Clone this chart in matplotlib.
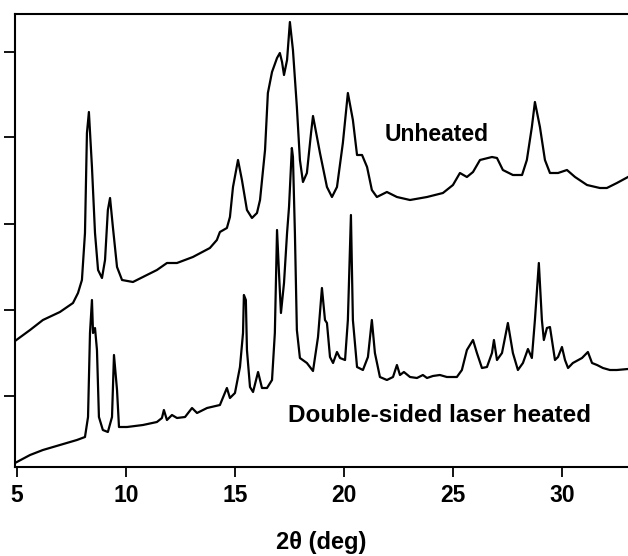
import matplotlib
matplotlib.use("Agg")
import matplotlib.pyplot as plt

plt.rcParams['font.family'] = ['Liberation Sans', 'DejaVu Sans']

# 2-theta (deg) and intensity (a.u.)
two_theta_unheated = [
    4.91, 5.60, 6.19, 6.97, 7.57, 7.80, 7.98, 8.12, 8.21, 8.30, 8.44, 8.58,
    8.72, 8.90, 9.04, 9.17, 9.27, 9.40, 9.59, 9.82, 10.32, 10.96, 11.42,
    11.88, 12.34, 13.07, 13.85, 14.17, 14.31, 14.63, 14.77, 14.91, 15.14,
    15.32, 15.55, 15.78, 16.01, 16.15, 16.38, 16.51, 16.70, 16.93, 17.06,
    17.16, 17.25, 17.39, 17.52, 17.66, 17.84, 17.98, 18.12, 18.30, 18.49,
    18.58, 18.90, 19.22, 19.45, 19.68, 19.95, 20.18, 20.41, 20.60, 20.83,
    21.06, 21.28, 21.51, 21.97, 22.43, 23.03, 23.81, 24.54, 25.00, 25.32,
    25.64, 25.92, 26.24, 26.79, 27.02, 27.29, 27.75, 28.17, 28.39, 28.62,
    28.76, 28.99, 29.22, 29.45, 29.82, 30.23, 30.60, 31.15, 31.74, 32.06,
    32.52, 33.03,
]
intensity_unheated = [
    126, 137, 147, 155, 164, 174, 187, 234, 334, 355, 300, 234,
    197, 189, 207, 257, 269, 240, 200, 187, 185, 192, 197,
    204, 204, 210, 219, 227, 235, 239, 250, 280, 307,
    287, 257, 249, 254, 267, 317, 374, 395, 409, 414,
    405, 392, 407, 445, 417, 360, 307, 285, 294, 334,
    351, 314, 280, 270, 280, 324, 374, 347, 312, 312,
    300, 277, 270, 275, 270, 267, 270, 274, 282, 294,
    290, 295, 307, 310, 309, 297, 292, 292, 307, 340,
    365, 340, 307, 294, 294, 297, 290, 282, 279, 279,
    284, 290,
]

two_theta_heated = [
    4.91, 5.60, 6.19, 6.97, 7.75, 8.12, 8.26, 8.35, 8.44, 8.49, 8.58, 8.67,
    8.76, 8.94, 9.17, 9.36, 9.45, 9.59, 9.68, 10.05, 10.78, 11.42, 11.65,
    11.74, 11.88, 12.11, 12.34, 12.71, 13.03, 13.26, 13.72, 14.31, 14.63,
    14.77, 15.00, 15.23, 15.37, 15.41, 15.50, 15.55, 15.69, 15.83, 16.06,
    16.24, 16.47, 16.70, 16.83, 16.93, 17.02, 17.11, 17.25, 17.39, 17.48,
    17.61, 17.66, 17.75, 17.84, 17.98, 18.30, 18.58, 18.81, 18.99, 19.13,
    19.22, 19.36, 19.50, 19.68, 19.82, 20.05, 20.18, 20.32, 20.41, 20.60,
    20.87, 21.10, 21.28, 21.42, 21.65, 21.97, 22.25, 22.43, 22.57, 22.75,
    23.03, 23.35, 23.62, 23.81, 24.08, 24.40, 24.72, 25.18, 25.41, 25.64,
    25.92, 26.10, 26.33, 26.56, 26.79, 26.88, 27.02, 27.25, 27.52, 27.75,
    27.98, 28.21, 28.44, 28.62, 28.76, 28.94, 29.08, 29.17, 29.31, 29.45,
    29.68, 29.82, 30.00, 30.14, 30.28, 30.50, 30.92, 31.19, 31.38, 31.61,
    31.88, 32.20, 32.52, 33.03,
]
intensity_heated = [
    4, 12, 17, 22, 27, 30, 50, 134, 167, 134, 139, 117,
    50, 37, 35, 50, 112, 77, 40, 40, 42, 45, 49,
    57, 47, 52, 49, 50, 59, 54, 59, 62, 79,
    69, 74, 100, 134, 172, 167, 117, 80, 75, 95,
    79, 79, 87, 134, 237, 194, 154, 184, 234, 260,
    319, 310, 234, 137, 109, 104, 96, 130, 179, 147,
    144, 110, 104, 115, 109, 107, 147, 252, 147, 100,
    97, 110, 147, 114, 90, 87, 90, 102, 92, 95,
    90, 89, 92, 89, 91, 92, 90, 90, 97, 117,
    127, 114, 99, 100, 114, 127, 107, 114, 144, 114,
    97, 104, 118, 109, 147, 204, 147, 127, 139, 140,
    107, 110, 120, 107, 99, 104, 109, 115, 104, 102,
    99, 97, 97, 98,
]

x_ticks = [5, 10, 15, 20, 25, 30]
y_ticks = [71, 157, 243, 330, 415]

fig = plt.figure(figsize=(6.28, 5.56), dpi=100)
ax = fig.add_axes([15 / 628, 89 / 556, 613 / 628, 453 / 556])

ax.plot(two_theta_unheated, intensity_unheated, color='black', lw=1.6)
ax.plot(two_theta_heated, intensity_heated, color='black', lw=1.6)

ax.set_xlim(4.91, 33.03)
ax.set_ylim(0, 453)

ax.set_xticks(x_ticks)
ax.set_xticklabels([str(t) for t in x_ticks], fontsize=16.5, fontweight='bold')
ax.set_yticks(y_ticks)
ax.set_yticklabels([])
ax.tick_params(axis='x', direction='out', length=7, width=1.3, pad=5)
ax.tick_params(axis='y', direction='out', length=8, width=1.3)

for side in ['left', 'bottom', 'top']:
    ax.spines[side].set_linewidth(1.5)
ax.spines['right'].set_visible(False)

fig.text(321 / 628, 7 / 556, "2\u03b8 (deg)", fontsize=17, fontweight='bold',
         ha='center', va='baseline')

ax.text(21.88, 326, "Unheated", fontsize=16.5, fontweight='bold',
        ha='left', va='baseline')
ax.text(17.43, 45, "Double-sided laser heated", fontsize=17.5,
        fontweight='bold', ha='left', va='baseline')

fig.savefig("out.png", dpi=100)
